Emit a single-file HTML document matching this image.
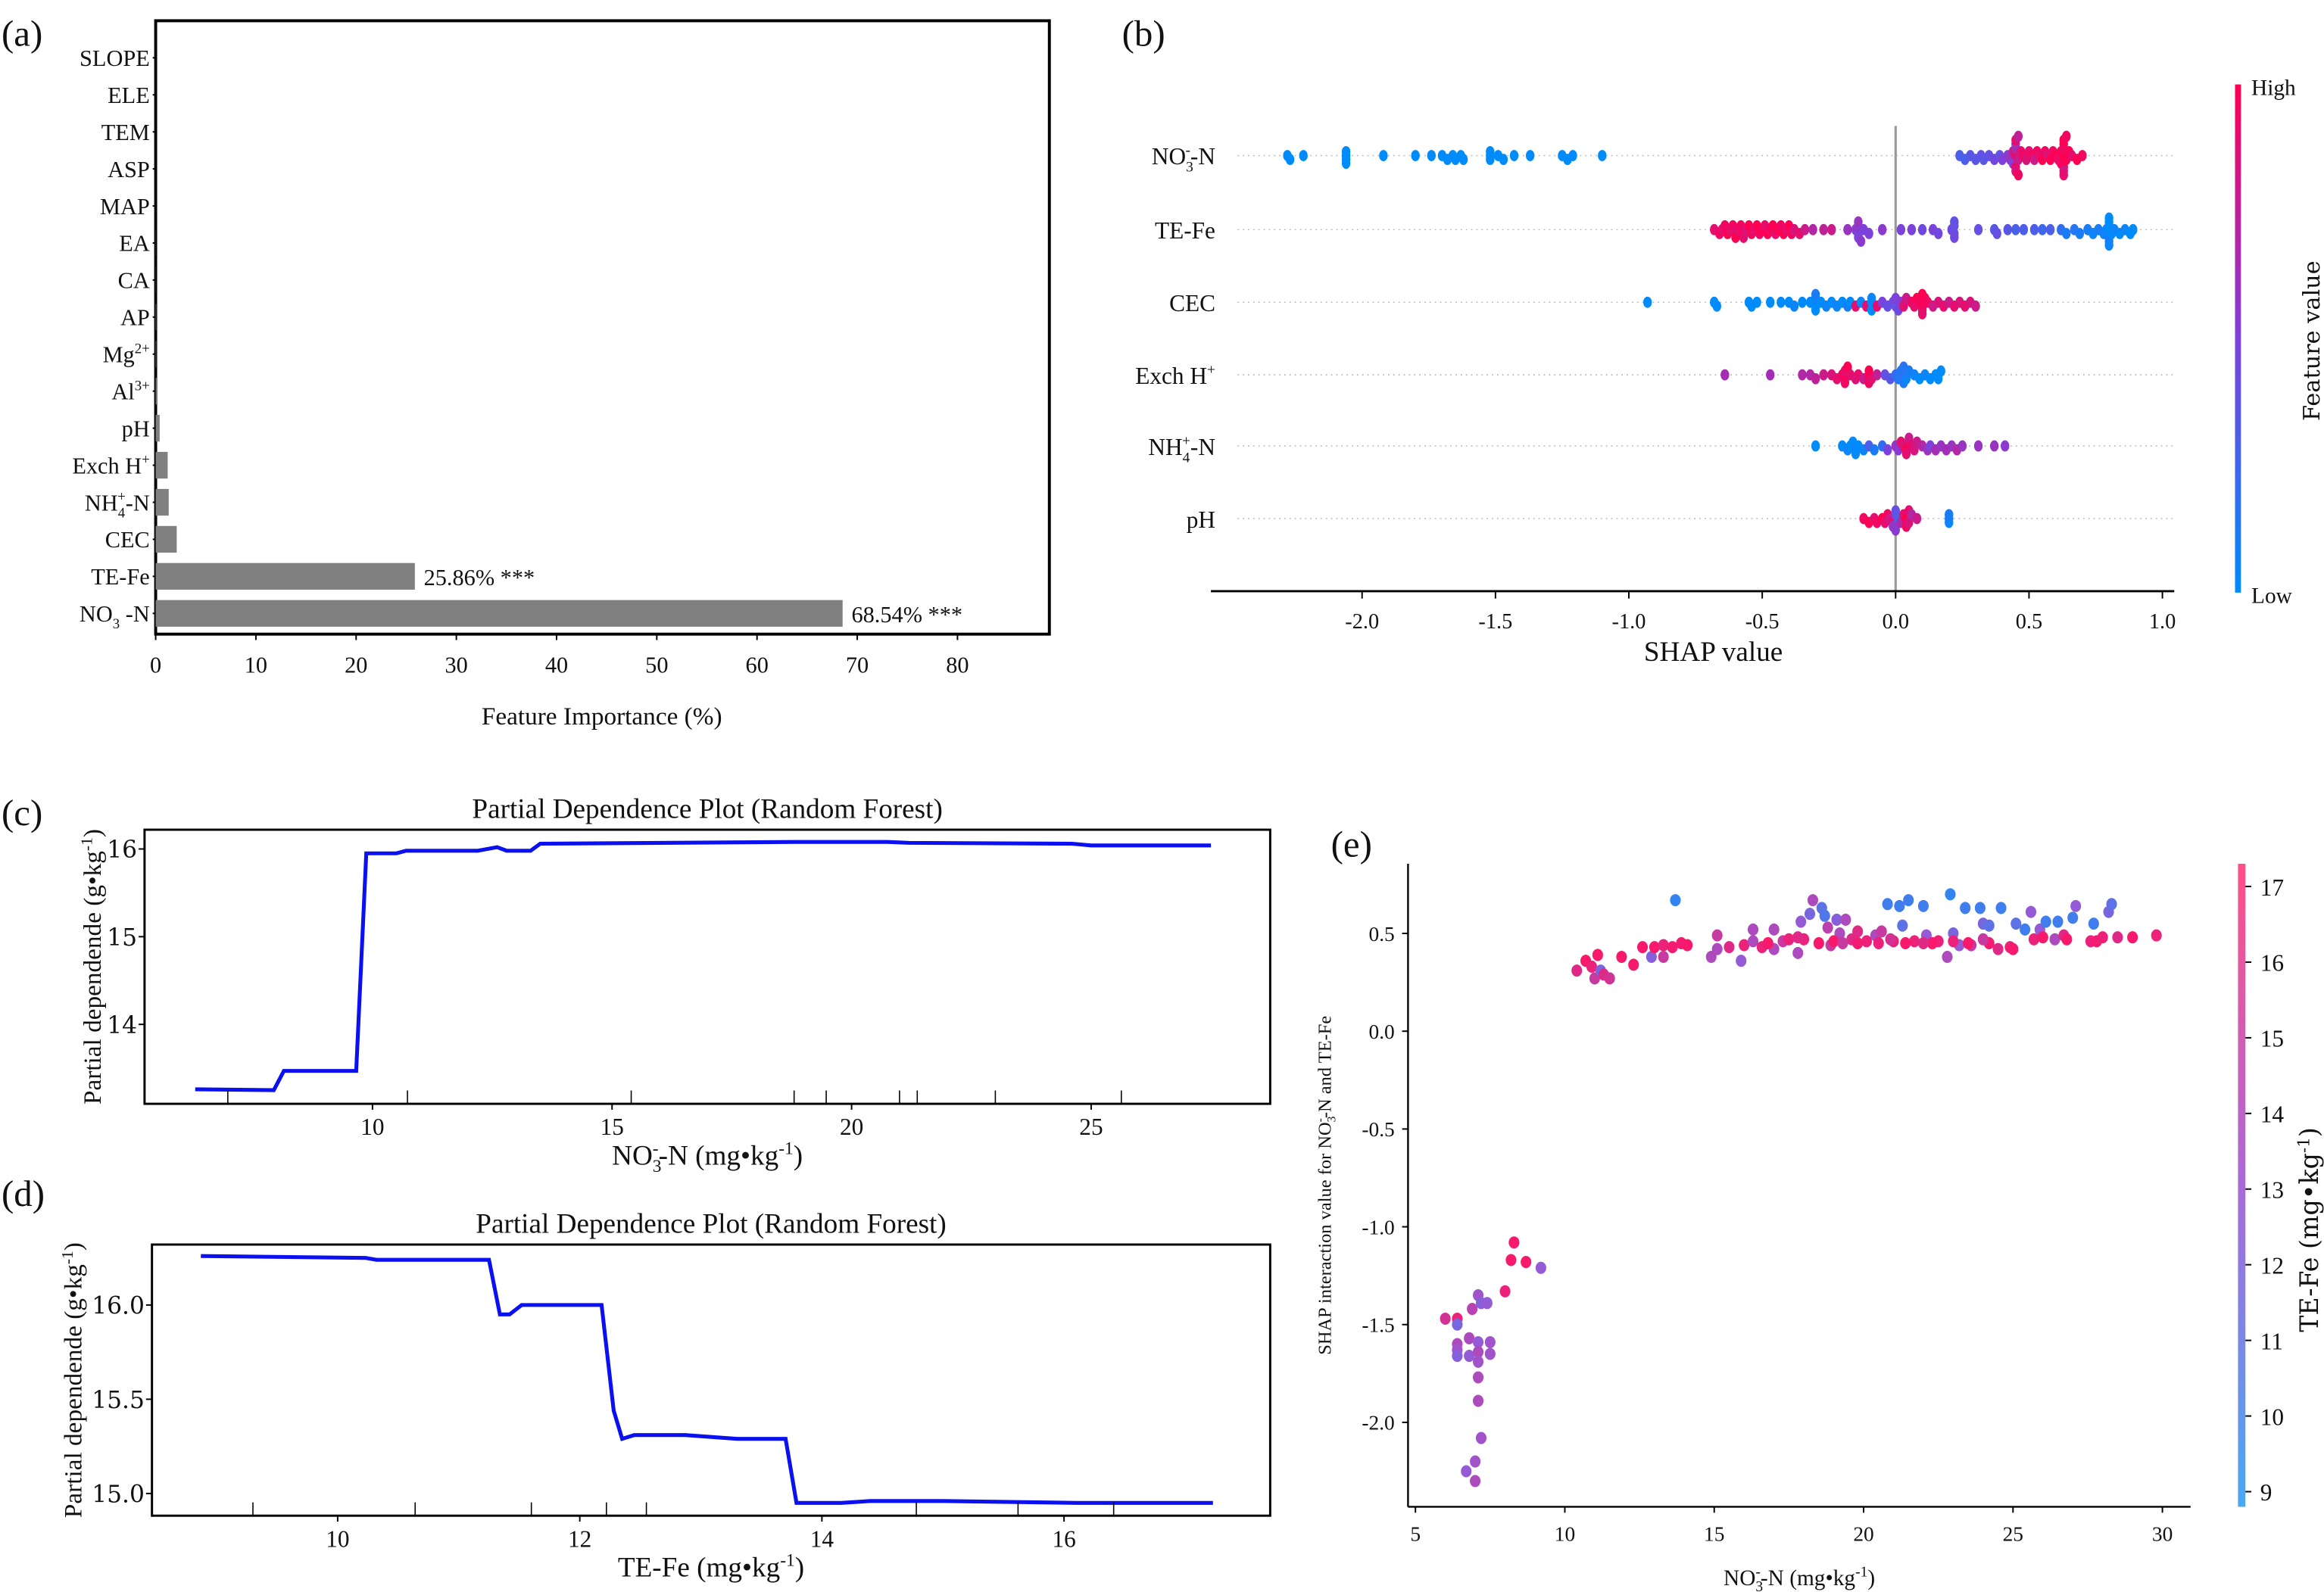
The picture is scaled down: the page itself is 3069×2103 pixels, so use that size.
<!DOCTYPE html>
<html><head><meta charset="utf-8">
<style>
html,body{margin:0;padding:0;background:#fff;}
svg{display:block;font-family:"Liberation Serif",serif;}
</style></head>
<body>
<svg id="fig" width="3069" height="2103" viewBox="0 0 1568 1074.5" xmlns="http://www.w3.org/2000/svg">
<defs>
<linearGradient id="shapGrad" x1="0" y1="1" x2="0" y2="0">
<stop offset="0" stop-color="#008bfb"/><stop offset="0.5" stop-color="#7d41dc"/><stop offset="1" stop-color="#ff0052"/>
</linearGradient>
<linearGradient id="feGrad" x1="0" y1="1" x2="0" y2="0">
<stop offset="0" stop-color="#4aa8f2"/><stop offset="0.5" stop-color="#a86ad6"/><stop offset="1" stop-color="#ff4f86"/>
</linearGradient>
</defs>
<g id="root"></g>
</svg>
<script>
// ---------- data ----------
const impCats = ["SLOPE","ELE","TEM","ASP","MAP","EA","CA","AP","Mg2+","Al3+","pH","Exch H+","NH4+-N","CEC","TE-Fe","NO3-N"];
const impVals = [0,0,0,0,0,0.02,0.02,0.05,0.05,0.1,0.4,1.2,1.3,2.1,25.86,68.54];
const impTicks = [0,10,20,30,40,50,60,70,80];

const shapRows = ["NO3-N","TE-Fe","CEC","Exch H+","NH4+-N","pH"];
const shapTicks = [-2.0,-1.5,-1.0,-0.5,0.0,0.5,1.0];
const shapNO3 = [[-2.28,0],[-2.27,0],[-2.22,0],[-2.06,0],[-2.06,0],[-2.06,0],[-2.06,0],[-1.92,0],[-1.80,0],[-1.74,0],[-1.70,0],[-1.68,0],[-1.66,0],[-1.65,0],[-1.63,0],[-1.62,0],[-1.52,0],[-1.52,0],[-1.52,0],[-1.49,0],[-1.47,0],[-1.43,0],[-1.37,0],[-1.25,0],[-1.23,0],[-1.21,0],[-1.10,0],
[0.24,0.3],[0.26,0.3],[0.28,0.35],[0.30,0.35],[0.32,0.4],[0.33,0.35],[0.35,0.4],[0.37,0.45],[0.39,0.4],[0.40,0.5],[0.42,0.55],[0.43,0.6],[0.44,0.8],[0.44,0.5],[0.45,0.9],[0.45,0.7],[0.45,0.95],[0.45,0.6],[0.45,0.85],[0.45,0.9],[0.46,0.8],[0.46,0.95],[0.46,0.75],[0.47,0.9],[0.48,0.95],[0.49,0.85],[0.50,0.9],[0.51,0.95],[0.52,0.8],[0.53,0.95],[0.54,0.9],[0.55,1],[0.56,0.95],[0.57,0.85],[0.58,1],[0.59,0.95],[0.60,1],[0.61,0.9],[0.62,1],[0.62,0.95],[0.63,1],[0.63,0.9],[0.63,1],[0.63,0.95],[0.63,0.8],[0.63,1],[0.63,0.9],[0.64,1],[0.64,0.95],[0.65,1],[0.66,0.9],[0.68,1],[0.70,0.95]];
const shapFe = [[-0.68,0.9],[-0.66,0.95],[-0.65,0.9],[-0.64,0.95],[-0.63,1],[-0.62,0.9],[-0.61,0.95],[-0.60,0.85],[-0.60,1],[-0.59,0.9],[-0.58,0.95],[-0.57,1],[-0.57,0.9],[-0.56,0.85],[-0.55,1],[-0.54,0.95],[-0.53,0.9],[-0.52,1],[-0.51,0.95],[-0.50,1],[-0.49,0.9],[-0.48,1],[-0.47,0.95],[-0.46,1],[-0.45,0.9],[-0.44,1],[-0.43,0.95],[-0.42,1],[-0.41,0.9],[-0.40,1],[-0.39,0.95],[-0.38,0.85],[-0.36,0.9],[-0.34,0.8],[-0.31,0.7],[-0.27,0.75],[-0.24,0.8],[-0.18,0.6],[-0.15,0.55],[-0.14,0.5],[-0.14,0.55],[-0.14,0.5],[-0.14,0.6],[-0.13,0.55],[-0.12,0.5],[-0.10,0.5],[-0.05,0.55],[0.02,0.5],[0.06,0.5],[0.10,0.45],[0.14,0.5],[0.16,0.45],[0.21,0.45],[0.22,0.45],[0.22,0.4],[0.22,0.45],[0.22,0.4],[0.31,0.4],[0.37,0.35],[0.38,0.4],[0.42,0.35],[0.45,0.3],[0.48,0.3],[0.52,0.3],[0.55,0.25],[0.58,0.3],[0.62,0.2],[0.64,0.1],[0.67,0.15],[0.69,0.1],[0.72,0.1],[0.74,0.05],[0.76,0.1],[0.78,0.05],[0.79,0.05],[0.80,0],[0.80,0.05],[0.80,0],[0.80,0.1],[0.80,0],[0.80,0.05],[0.81,0],[0.82,0.05],[0.84,0],[0.86,0.05],[0.88,0],[0.89,0]];
const shapCEC = [[-0.93,0],[-0.68,0],[-0.67,0],[-0.55,0],[-0.54,0],[-0.52,0],[-0.47,0],[-0.43,0],[-0.40,0],[-0.38,0.05],[-0.35,0],[-0.32,0],[-0.30,0],[-0.30,0.05],[-0.30,0],[-0.30,0.1],[-0.28,0],[-0.26,0.05],[-0.24,0],[-0.22,0.05],[-0.20,0],[-0.18,0.1],[-0.17,0],[-0.15,0.9],[-0.13,0.05],[-0.11,0.9],[-0.09,0],[-0.09,0.05],[-0.09,0],[-0.07,0.9],[-0.05,0.5],[-0.03,0.4],[-0.01,0.45],[0.00,0.4],[0.00,0.5],[0.01,0.45],[0.02,0.55],[0.03,0.9],[0.04,0.8],[0.06,0.95],[0.07,0.9],[0.08,1],[0.09,0.95],[0.10,1],[0.10,0.95],[0.10,1],[0.10,0.9],[0.11,1],[0.12,0.95],[0.14,0.8],[0.16,0.85],[0.18,0.9],[0.20,0.8],[0.22,0.9],[0.24,0.85],[0.26,0.9],[0.28,0.85],[0.30,0.8]];
const shapH = [[-0.64,0.65],[-0.47,0.65],[-0.35,0.7],[-0.32,0.7],[-0.30,0.75],[-0.27,0.8],[-0.24,0.85],[-0.22,0.9],[-0.20,0.95],[-0.19,1],[-0.19,0.9],[-0.19,0.95],[-0.18,1],[-0.17,0.9],[-0.15,0.85],[-0.14,0.9],[-0.12,0.8],[-0.10,0.95],[-0.10,1],[-0.10,0.95],[-0.09,0.9],[-0.07,0.75],[-0.04,0.4],[-0.02,0.35],[0.00,0.2],[0.01,0.15],[0.02,0.1],[0.03,0.2],[0.03,0.1],[0.03,0.15],[0.04,0.05],[0.05,0.1],[0.07,0.05],[0.09,0],[0.11,0.05],[0.13,0],[0.15,0],[0.16,0],[0.17,0]];
const shapNH4 = [[-0.30,0],[-0.20,0],[-0.18,0.05],[-0.17,0],[-0.16,0],[-0.15,0.05],[-0.15,0],[-0.14,0],[-0.12,0.05],[-0.10,0.3],[-0.08,0.1],[-0.05,0.2],[-0.03,0.5],[0.00,0.6],[0.01,0.55],[0.02,0.9],[0.03,0.85],[0.04,1],[0.04,0.9],[0.05,0.95],[0.05,0.8],[0.06,0.9],[0.07,0.85],[0.08,0.8],[0.10,0.7],[0.12,0.6],[0.13,0.5],[0.15,0.65],[0.17,0.6],[0.19,0.65],[0.21,0.6],[0.23,0.7],[0.25,0.6],[0.31,0.6],[0.37,0.6],[0.41,0.55]];
const shapPH = [[-0.12,0.95],[-0.10,1],[-0.08,0.9],[-0.07,0.95],[-0.05,1],[-0.04,0.9],[-0.03,0.95],[-0.02,0.8],[-0.01,0.9],[-0.01,0.6],[0.00,0.5],[0.00,0.4],[0.00,0.55],[0.01,0.3],[0.02,0.7],[0.03,0.9],[0.04,1],[0.04,0.95],[0.05,0.85],[0.05,0.9],[0.06,0.7],[0.08,0.8],[0.20,0.1],[0.20,0.05],[0.20,0.1]];

const pdNO3x = [6.3,7.94,8.15,9.66,9.87,10.5,10.7,12.2,12.6,12.8,13.3,13.5,18.8,20.75,21.2,24.6,25.0,27.5];
const pdNO3y = [13.26,13.25,13.47,13.47,15.95,15.95,15.98,15.98,16.02,15.98,15.98,16.06,16.08,16.08,16.07,16.06,16.04,16.04];
const pdNO3rug = [6.98,10.73,15.4,18.8,19.47,21.0,21.37,23.0,25.63];
const pdNO3xt = [10,15,20,25];
const pdNO3yt = [14,15,16];

const pdFex = [8.87,10.23,10.32,11.25,11.34,11.42,11.52,12.18,12.28,12.35,12.45,12.87,13.3,13.7,13.79,14.16,14.4,15.0,16.1,17.23];
const pdFey = [16.26,16.25,16.24,16.24,15.95,15.95,16.0,16.0,15.44,15.29,15.31,15.31,15.29,15.29,14.95,14.95,14.96,14.96,14.95,14.95];
const pdFerug = [9.3,10.64,11.6,12.22,12.55,14.78,15.62,16.41];
const pdFext = [10,12,14,16];
const pdFeyt = [15.0,15.5,16.0];

const intX = [6.0,6.4,6.4,6.4,6.4,6.4,6.8,6.8,6.9,7.1,7.2,7.4,7.1,7.5,7.1,7.5,7.1,7.1,7.1,7.2,6.7,7.0,7.0,8.0,8.2,8.3,8.7,9.2,
10.4,10.7,10.9,11.0,11.1,11.2,11.3,11.5,11.9,12.3,12.6,12.9,13.0,13.3,13.3,13.6,13.7,13.9,14.1,14.9,15.1,15.1,15.5,15.9,16.0,16.3,16.3,16.6,17.0,17.0,17.3,17.8,17.9,18.0,18.2,18.3,18.6,18.7,18.8,18.9,19.1,19.2,19.4,19.6,19.8,20.1,20.4,20.6,20.8,21.0,21.2,21.3,21.5,21.7,22.0,22.1,22.5,22.8,22.9,23.0,23.2,23.4,23.6,23.9,24.0,24.2,24.5,24.6,24.9,25.1,25.4,25.6,25.7,25.9,26.1,26.4,26.5,26.7,27.0,27.1,27.6,27.7,28.0,28.2,28.3,28.5,29.0,29.8,
16.8,17.5,18.5,19.0,19.8,20.5,21.4,22.3,23.0,23.5,24.2,25.0,26.0,26.8,27.8,17.8,19.3,20.9,22.0,24.0];
const intY = [-1.47,-1.47,-1.5,-1.6,-1.63,-1.66,-1.57,-1.66,-1.42,-1.35,-1.39,-1.39,-1.59,-1.59,-1.64,-1.65,-1.69,-1.77,-1.89,-2.08,-2.25,-2.2,-2.3,-1.33,-1.17,-1.08,-1.18,-1.21,
0.31,0.36,0.33,0.27,0.39,0.31,0.29,0.27,0.38,0.34,0.43,0.38,0.43,0.38,0.44,0.43,0.67,0.45,0.44,0.38,0.49,0.42,0.43,0.36,0.44,0.46,0.52,0.43,0.42,0.52,0.46,0.40,0.56,0.47,0.6,0.67,0.63,0.59,0.53,0.44,0.57,0.5,0.57,0.47,0.51,0.46,0.49,0.51,0.65,0.46,0.64,0.54,0.67,0.46,0.64,0.49,0.46,0.38,0.70,0.50,0.44,0.63,0.44,0.63,0.55,0.54,0.42,0.63,0.43,0.55,0.52,0.61,0.47,0.52,0.56,0.47,0.56,0.49,0.58,0.64,0.46,0.55,0.48,0.61,0.65,0.48,0.48,0.49,
0.45,0.47,0.45,0.46,0.45,0.45,0.45,0.45,0.46,0.45,0.45,0.42,0.48,0.47,0.46,0.48,0.45,0.47,0.45,0.47];
const intC = [15.5,16.5,12,14,13.5,12.5,14,13,14.5,13.5,12.5,13,13,13.5,14,13.5,13.5,14,14,13.5,13,13.5,14,16.5,17,17,17,13,
16,17,16.5,15,17,12,16,15.5,17,17,17,12.5,17,15,16.5,16.8,9.5,16.8,17,14,15,14,16,13,16.5,14,14,16.5,14,14,15,14,13,16.5,12,14,11,10.5,14.5,15,12.5,14,14,16,16,16.5,14,15,10,16.5,10,11,10,16.5,10,13,16.5,14,9.5,12,13,10,15,10,12,11,16,10,16.5,11,10,13,16.5,13,10,14,10,16,10,13,16.5,10,16.5,12,11,16,17,16.5,
17,16.5,17,17,16.8,16.5,17,17,16.5,17,16.8,17,17,17,16.8,16,15,15.5,16,15];
const intXt = [5,10,15,20,25,30];
const intYt = [0.5,0.0,-0.5,-1.0,-1.5,-2.0];
const cbTicks = [9,10,11,12,13,14,15,16,17];

// ---------- helpers ----------
const NS = "http://www.w3.org/2000/svg";
const root = document.getElementById('root');
function mk(tag, attrs, parent){
  const e = document.createElementNS(NS, tag);
  for (const k in attrs) e.setAttribute(k, attrs[k]);
  (parent||root).appendChild(e);
  return e;
}
function txt(s, x, y, size, anchor, parent){
  const t = mk('text', {x:x, y:y, 'font-size':size, 'text-anchor':anchor||'start', fill:'#111'}, parent);
  t.textContent = s;
  return t;
}
function lin(d0,d1,r0,r1){ return v => r0 + (v-d0)*(r1-r0)/(d1-d0); }
function lerpColor(stops, t){
  t = Math.max(0, Math.min(1, t));
  for (let i=0;i<stops.length-1;i++){
    const [a,ca] = stops[i], [b,cb] = stops[i+1];
    if (t<=b){ const u=(t-a)/(b-a); return `rgb(${Math.round(ca[0]+(cb[0]-ca[0])*u)},${Math.round(ca[1]+(cb[1]-ca[1])*u)},${Math.round(ca[2]+(cb[2]-ca[2])*u)})`; }
  }
  return 'rgb(255,0,82)';
}
const shapStops = [[0,[0,139,251]],[0.5,[125,65,220]],[1,[255,0,82]]];

function buildLabel(name, x, y, size, anchor, parent){
  const t = mk('text', {x:x, y:y, 'font-size':size, 'text-anchor':anchor, fill:'#111'}, parent);
  const defs = {
    "Mg2+":[["Mg",0],["2+",1]], "Al3+":[["Al",0],["3+",1]], "Exch H+":[["Exch H",0],["+",1]],
    "NH4+-N":[["NH",0],["4",-1],["+",2],["-N",0]], "NO3-N":[["NO",0],["3",-1],["-",2],["-N",0]],
    "NO3 -N":[["NO",0],["3",-1],[" -N",0]]
  };
  const parts = defs[name] || [[name,0]];
  let level = 0;
  for (const [s, mode] of parts){
    const sp = mk('tspan', {}, t);
    sp.textContent = s;
    let target = 0, fs = size;
    if (mode===1){ target = -size*0.4; fs = size*0.62; }
    if (mode===-1){ target = size*0.3; fs = size*0.62; }
    if (mode===2){ target = -size*0.4; fs = size*0.62; sp.setAttribute('dx', -size*0.33); }
    sp.setAttribute('font-size', fs);
    sp.setAttribute('dy', target - level);
    level = target;
  }
  return t;
}

// ---------- panel labels ----------
let pl;
pl = txt("(a)", 1, 31, 25, 'start');  
pl = txt("(b)", 757, 31, 25, 'start');  
pl = txt("(c)", 1, 557, 25, 'start');  
pl = txt("(d)", 1, 814, 25, 'start');  
pl = txt("(e)", 898, 578, 25, 'start');  

// ---------- panel a ----------
(function(){
  const g = mk('g', {});
  
  
  const X = lin(0, 80, 105, 646);
  const Y = i => 39 + i*25;
  mk('rect', {x:105, y:14, width:603, height:414, fill:'none', stroke:'#000', 'stroke-width':2}, g);
  impCats.forEach((c,i)=>{
    const r = mk('rect', {x:X(0), y:Y(i)-9, width:Math.max(0, X(impVals[i])-X(0)), height:18, fill:'#808080'}, g);
    
    
    mk('line', {x1:103, x2:105, y1:Y(i), y2:Y(i), stroke:'#000'}, g);
    const lab = (c==="NO3-N") ? "NO3 -N" : c;
    const t = buildLabel(lab, 101, Y(i)+5.5, 15.5, 'end', g);
    
    
  });
  const ann = [[14,"25.86%  ***"],[15,"68.54%  ***"]];
  ann.forEach(([i,s])=>{
    const t = txt(s, X(impVals[i])+6, Y(i)+6, 15.5, 'start', g);
    t.setAttribute('xml:space','preserve');
    
    
  });
  impTicks.forEach(v=>{
    mk('line', {x1:X(v), x2:X(v), y1:428, y2:432, stroke:'#000'}, g);
    const t = txt(String(v), X(v), 454, 15.5, 'middle', g);
    
    
  });
  const xt = txt("Feature Importance (%)", 406, 489, 17, 'middle', g);
  
  
})();

// ---------- panel b ----------
(function(){
  const g = mk('g', {});
  
  
  const X = lin(0, 1, 1279, 1459);
  const rowY = [105,155,204,253,301,350];
  const rows = [shapNO3, shapFe, shapCEC, shapH, shapNH4, shapPH];
  rowY.forEach(y=>{
    mk('line', {x1:835, x2:1468, y1:y, y2:y, stroke:'#bbb', 'stroke-width':0.8, 'stroke-dasharray':'1 2.5'}, g);
  });
  const zl = mk('line', {x1:X(0), x2:X(0), y1:85, y2:399, stroke:'#999', 'stroke-width':1.6}, g);
  
  
  const r = 3.3;
  rows.forEach((pts,ri)=>{
    const placed = [];
    pts.forEach(([v,f])=>{
      const px = X(v);
      let off = 0;
      for (let k=0;k<40;k++){
        const cand = (k===0)?0:((k%2)?1:-1)*Math.ceil(k/2)*2.6;
        let ok = true;
        for (const p of placed){ if (Math.abs(p[0]-px) < r*1.5 && Math.abs(p[1]-cand) < 2.5){ ok=false; break; } }
        if (ok){ off = cand; break; }
      }
      placed.push([px,off]);
      const c = mk('ellipse', {cx:px, cy:rowY[ri]+off, rx:2.9, ry:3.8, fill:lerpColor(shapStops,f)}, g);
      
      
    });
    const t = buildLabel(shapRows[ri], 820, rowY[ri]+6, 16, 'end', g);
    
    
  });
  mk('line', {x1:817, x2:1467, y1:399, y2:399, stroke:'#000', 'stroke-width':1.5}, g);
  shapTicks.forEach(v=>{
    mk('line', {x1:X(v), x2:X(v), y1:399, y2:404, stroke:'#000'}, g);
    const t = txt(v.toFixed(1), X(v), 424, 14.5, 'middle', g);
    
    
  });
  const xt = txt("SHAP value", 1156, 446, 19, 'middle', g);
  
  
  const cb = mk('rect', {x:1508, y:57, width:4, height:343, fill:'url(#shapGrad)'}, g);
  
  
  let t = txt("High", 1519, 64, 15, 'start', g);  
  t = txt("Low", 1519, 407, 15, 'start', g);  
  t = txt("Feature value", 0, 0, 15.5, 'middle', g);
  t.setAttribute('font-family','"DejaVu Serif",serif');
  t.setAttribute('transform','translate(1565,230) rotate(-90)');
   
})();

// ---------- panels c / d ----------
function pdPanel(name, box, xd, yd, xs, ys, rug, xt, yt, ytFmt, title, xtitleParts, ylabX){
  const g = mk('g', {});
  
  
  const X = lin(xd[0], xd[1], xd[2], xd[3]);
  const Y = lin(yd[0], yd[1], yd[2], yd[3]);
  mk('rect', {x:box[0], y:box[1], width:box[2]-box[0], height:box[3]-box[1], fill:'none', stroke:'#000', 'stroke-width':1.5}, g);
  const line = mk('polyline', {points: xs.map((v,i)=>X(v)+','+Y(ys[i])).join(' '), fill:'none', stroke:'#0a10f0', 'stroke-width':2.6}, g);
  
  
  rug.forEach(v=>{
    const l = mk('line', {x1:X(v), x2:X(v), y1:box[3], y2:box[3]-9, stroke:'#000', 'stroke-width':0.8}, g);
    
    
  });
  xt.forEach(v=>{
    mk('line', {x1:X(v), x2:X(v), y1:box[3], y2:box[3]+4, stroke:'#000'}, g);
    const t = txt(String(v), X(v), box[3]+21, 16, 'middle', g);
     
  });
  yt.forEach(v=>{
    mk('line', {x1:box[0]-4, x2:box[0], y1:Y(v), y2:Y(v), stroke:'#000'}, g);
    const t = txt(ytFmt(v), box[0]-5, Y(v)+6, 16, 'end', g);
    t.setAttribute('font-family','"DejaVu Serif",serif');
     
  });
  const tt = txt(title, (box[0]+box[2])/2, box[1]-8, 19, 'middle', g);
   
  const xl = mk('text', {x:(box[0]+box[2])/2, y:box[3]+41, 'font-size':19, 'text-anchor':'middle', fill:'#111'}, g);
   
  let level = 0;
  xtitleParts.forEach(([s,m])=>{
    const sp = mk('tspan', {}, xl); sp.textContent = s;
    let target = 0, fs = 19;
    if (m===1){ target=-7; fs=12; } if (m===-1){ target=5; fs=12; } if (m===2){ target=-7; fs=12; sp.setAttribute('dx',-6); }
    sp.setAttribute('font-size', fs); sp.setAttribute('dy', target-level); level = target;
  });
  const yl = mk('text', {x:0, y:0, 'font-size':17, 'text-anchor':'middle', fill:'#111'}, g);
  yl.setAttribute('transform', `translate(${ylabX},${(box[1]+box[3])/2}) rotate(-90)`);
   
  const a = mk('tspan', {}, yl); a.textContent = "Partial dependende (g•kg";
  const b = mk('tspan', {'font-size':11, dy:-6}, yl); b.textContent = "-1";
  const c = mk('tspan', {dy:6}, yl); c.textContent = ")";
}
pdPanel('panel-c-pdp-no3', [97.5,560,857,745], [10,25,251.3,736.2], [16,14,573,691.4], pdNO3x, pdNO3y, pdNO3rug, pdNO3xt, pdNO3yt, v=>String(v),
  "Partial Dependence Plot (Random Forest)", [["NO",0],["3",-1],["-",2],["-N (mg•kg",0],["-1",1],[")",0]], 68);
pdPanel('panel-d-pdp-tefe', [102.5,840,857,1023], [10,16,227.8,717.9], [16,15,880.8,1008], pdFex, pdFey, pdFerug, pdFext, pdFeyt, v=>v.toFixed(1),
  "Partial Dependence Plot (Random Forest)", [["TE-Fe (mg•kg",0],["-1",1],[")",0]], 55);

// ---------- panel e ----------
(function(){
  const g = mk('g', {});
  
  
  const X = lin(5, 30, 955, 1459);
  const Y = lin(0.5, -2.0, 630, 960);
  const C = lin(8.8, 17.3, 0, 1);
  const eStops = [[0,[30,140,245]],[0.5,[150,90,215]],[1,[255,20,100]]];
  intX.forEach((v,i)=>{
    const p = mk('ellipse', {cx:X(v), cy:Y(intY[i]), rx:3.6, ry:4.1, fill:lerpColor(eStops, C(intC[i]))}, g);
    
    
  });
  mk('line', {x1:950, x2:950, y1:583, y2:1017, stroke:'#000', 'stroke-width':1.2}, g);
  mk('line', {x1:950, x2:1478, y1:1017, y2:1017, stroke:'#000', 'stroke-width':1.2}, g);
  intXt.forEach(v=>{
    mk('line', {x1:X(v), x2:X(v), y1:1017, y2:1021, stroke:'#000'}, g);
    const t = txt(String(v), X(v), 1040, 14, 'middle', g);
     
  });
  intYt.forEach(v=>{
    mk('line', {x1:946, x2:950, y1:Y(v), y2:Y(v), stroke:'#000'}, g);
    const t = txt(v.toFixed(1), 941, Y(v)+5, 14, 'end', g);
     
  });
  const xl = mk('text', {x:1214, y:1070, 'font-size':15, 'text-anchor':'middle', fill:'#111'}, g);
   
  let s;
  s = mk('tspan', {}, xl); s.textContent = "NO";
  s = mk('tspan', {'font-size':10, dy:4}, xl); s.textContent = "3";
  s = mk('tspan', {'font-size':10, dy:-10, dx:-5}, xl); s.textContent = "-";
  s = mk('tspan', {dy:6}, xl); s.textContent = "-N (mg•kg";
  s = mk('tspan', {'font-size':10, dy:-6}, xl); s.textContent = "-1";
  s = mk('tspan', {dy:6}, xl); s.textContent = ")";
  const yl = mk('text', {x:0, y:0, 'font-size':12.5, 'text-anchor':'middle', fill:'#111'}, g);
  yl.setAttribute('transform','translate(898,800) rotate(-90)');
   
  s = mk('tspan', {}, yl); s.textContent = "SHAP interaction value for NO";
  s = mk('tspan', {'font-size':8, dy:3}, yl); s.textContent = "3";
  s = mk('tspan', {'font-size':8, dy:-8, dx:-4}, yl); s.textContent = "-";
  s = mk('tspan', {dy:5}, yl); s.textContent = "-N and TE-Fe";
  const CY = lin(8.8, 17.3, 1017, 583);
  const cb = mk('rect', {x:1510, y:583, width:5, height:434, fill:'url(#feGrad)'}, g);
   
  cbTicks.forEach(v=>{
    mk('line', {x1:1515, x2:1519, y1:CY(v), y2:CY(v), stroke:'#000'}, g);
    const t = txt(String(v), 1525, CY(v)+6, 16, 'start', g);
     
  });
  const cl = mk('text', {x:0, y:0, 'font-size':17, 'text-anchor':'middle', fill:'#111', 'font-family':'"DejaVu Serif",serif'}, g);
  cl.setAttribute('transform','translate(1564,830) rotate(-90)');
   
  s = mk('tspan', {}, cl); s.textContent = "TE-Fe (mg•kg";
  s = mk('tspan', {'font-size':11, dy:-6}, cl); s.textContent = "-1";
  s = mk('tspan', {dy:6}, cl); s.textContent = ")";
})();
</script>
</body></html>
